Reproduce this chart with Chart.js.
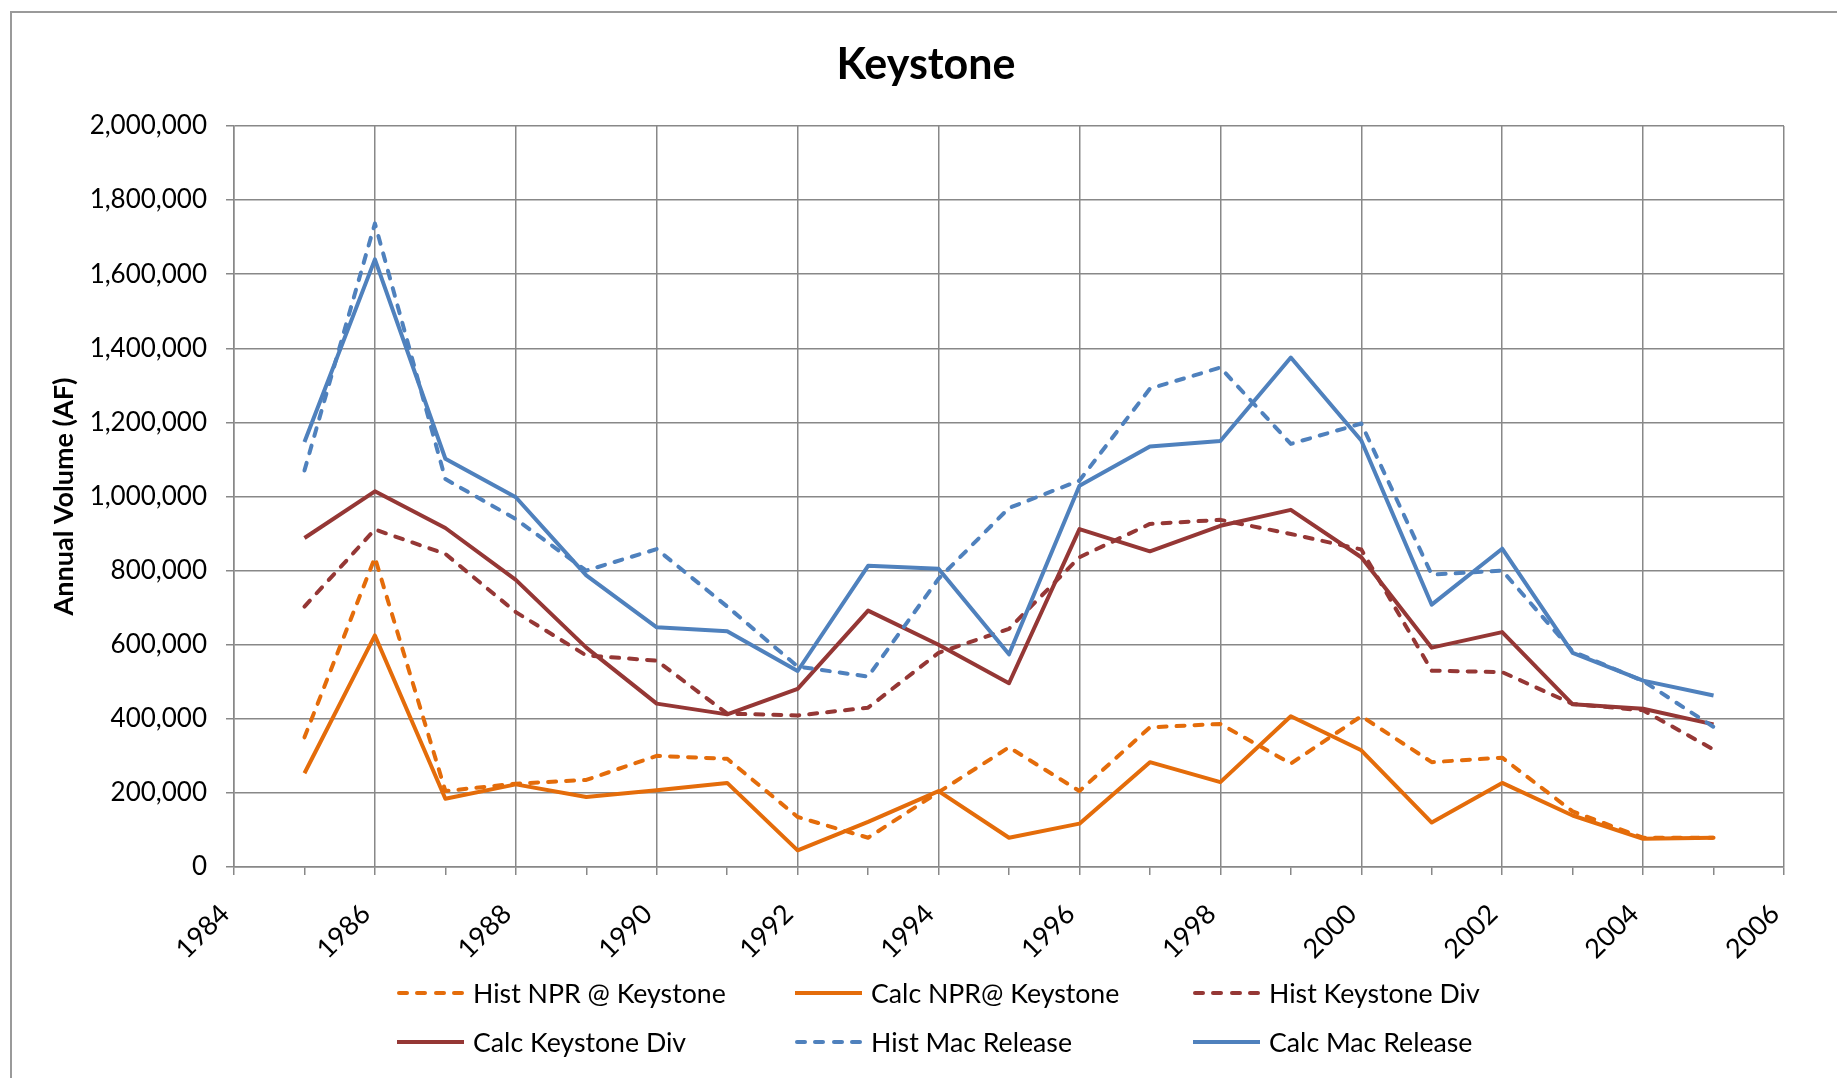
<!DOCTYPE html>
<html lang="en">
<head>
  <meta charset="UTF-8" />
  <title>Keystone</title>
  <script src="https://cdn.jsdelivr.net/npm/chart.js"></script>
  <style>
    body {
      margin: 0;
      background: #fff;
      font-family: Lato, sans-serif;
    }
    .frame {
      position: relative;
      width: 1837px;
      height: 1078px;
      overflow: hidden;
    }
    .outline {
      position: absolute;
      left: 10px;
      top: 11px;
      width: 1900px;
      height: 1200px;
      border-left: 2px solid #9a9a9a;
      border-top: 2px solid #9a9a9a;
    }
    #chart {
      position: absolute;
      left: 0;
      top: 0;
    }
    .title {
      position: absolute;
      left: 0;
      top: 41px;
      width: 1852px;
      text-align: center;
      font: bold 43px/43px Lato, sans-serif;
      color: #000;
    }
    .legend-item {
      position: absolute;
      height: 40px;
      display: flex;
      align-items: center;
      font: 26.7px Lato, sans-serif;
      color: #000;
      white-space: nowrap;
    }
    .sample {
      width: 67px;
      height: 4px;
      margin-right: 9px;
      display: flex;
      justify-content: space-between;
    }
    .sample span {
      display: block;
      width: 12px;
      height: 4px;
      border-radius: 2px;
    }
  </style>
</head>
<body>
  <div class="frame">
    <div class="outline"></div>
    <canvas id="chart" width="1837" height="1078"></canvas>
    <div class="title">Keystone</div>
    <div id="legend"></div>
  </div>

  <script>
    const years = [1985, 1986, 1987, 1988, 1989, 1990, 1991, 1992, 1993, 1994, 1995,
                   1996, 1997, 1998, 1999, 2000, 2001, 2002, 2003, 2004, 2005];

    const histNpr = [350000, 835000, 205000, 225000, 235000, 300000, 292000, 135000, 79000, 202000, 323000,
                     205000, 377000, 386000, 279000, 407000, 283000, 295000, 150000, 79000, 79000];
    const calcNpr = [253000, 625000, 184000, 223000, 189000, 207000, 227000, 45000, 122000, 205000, 79000,
                     117000, 283000, 229000, 407000, 315000, 120000, 227000, 139000, 76000, 79000];
    const histDiv = [703000, 911000, 845000, 688000, 571000, 557000, 414000, 409000, 430000, 578000, 643000,
                     836000, 926000, 937000, 899000, 857000, 530000, 526000, 440000, 423000, 317000];
    const calcDiv = [888000, 1014000, 915000, 775000, 592000, 441000, 412000, 481000, 692000, 600000, 496000,
                     912000, 852000, 921000, 964000, 836000, 592000, 634000, 439000, 427000, 385000];
    const histMac = [1070000, 1737000, 1047000, 939000, 800000, 858000, 703000, 541000, 514000, 778000, 969000,
                     1043000, 1291000, 1348000, 1142000, 1197000, 789000, 800000, 582000, 502000, 378000];
    const calcMac = [1147000, 1640000, 1102000, 998000, 787000, 647000, 636000, 529000, 813000, 805000, 574000,
                     1029000, 1135000, 1150000, 1375000, 1151000, 708000, 859000, 578000, 503000, 463000];

    const seriesNames = ['Hist NPR @ Keystone', 'Calc NPR@ Keystone', 'Hist Keystone Div',
                         'Calc Keystone Div', 'Hist Mac Release', 'Calc Mac Release'];
    const seriesValues = [histNpr, calcNpr, histDiv, calcDiv, histMac, calcMac];

    const xTicks = [1984, 1985, 1986, 1987, 1988, 1989, 1990, 1991, 1992, 1993, 1994, 1995,
                    1996, 1997, 1998, 1999, 2000, 2001, 2002, 2003, 2004, 2005, 2006];
    const yTicks = [0, 200000, 400000, 600000, 800000, 1000000, 1200000, 1400000, 1600000, 1800000, 2000000];

    // line styles, same order as seriesNames
    const ORANGE = '#e46c0a', RED = '#953735', BLUE = '#4f81bd';
    const styles = [
      { color: ORANGE, dashed: true },
      { color: ORANGE, dashed: false },
      { color: RED, dashed: true },
      { color: RED, dashed: false },
      { color: BLUE, dashed: true },
      { color: BLUE, dashed: false }
    ];
    const GRID = '#888888';

    const datasets = seriesNames.map((name, i) => ({
      label: name,
      data: seriesValues[i],
      borderColor: styles[i].color,
      backgroundColor: styles[i].color,
      borderWidth: 4,
      borderDash: styles[i].dashed ? [8, 10] : [],
      borderCapStyle: styles[i].dashed ? 'round' : 'butt',
      borderJoinStyle: 'round',
      pointRadius: 0,
      tension: 0,
      fill: false,
      order: seriesNames.length - i
    }));

    new Chart(document.getElementById('chart'), {
      type: 'line',
      data: { labels: years, datasets },
      options: {
        responsive: false,
        animation: false,
        devicePixelRatio: 1,
        layout: { padding: { top: 126, right: 53, left: 0, bottom: 0 } },
        plugins: {
          legend: { display: false },
          title: { display: false },
          tooltip: { enabled: false }
        },
        scales: {
          x: {
            type: 'linear',
            min: 1984,
            max: 2006,
            afterBuildTicks: s => { s.ticks = xTicks.map(v => ({ value: v })); },
            afterFit: s => { s.height = 211; },
            ticks: {
              autoSkip: false,
              maxRotation: 45,
              minRotation: 45,
              padding: 23,
              labelOffset: -9,
              color: '#000',
              font: { family: 'Lato', size: 27 },
              callback: v => (v % 2 === 0 ? String(v) : '')
            },
            grid: {
              color: c => (c.tick && c.tick.value % 2 !== 0 ? 'rgba(0,0,0,0)' : GRID),
              tickColor: GRID,
              tickLength: 8,
              lineWidth: 1.5
            },
            border: { color: GRID, width: 1.5 }
          },
          y: {
            min: 0,
            max: 2000000,
            afterBuildTicks: s => { s.ticks = yTicks.map(v => ({ value: v })); },
            afterFit: s => { s.width = 234; },
            ticks: {
              padding: 19,
              color: '#000',
              font: { family: 'Lato', size: 26 },
              callback: v => v.toLocaleString('en-US')
            },
            grid: { color: GRID, tickLength: 8, lineWidth: 1.5 },
            border: { color: GRID, width: 1.5 },
            title: {
              display: true,
              text: 'Annual Volume (AF)',
              color: '#000',
              font: { family: 'Lato', size: 27, weight: 'bold' },
              padding: { top: 48, bottom: 0 }
            }
          }
        }
      }
    });

    // legend in three columns, two rows like the original
    const legendCols = [397, 795, 1193];
    const legendRows = [973, 1022];
    const legend = document.getElementById('legend');
    seriesNames.forEach((name, i) => {
      const item = document.createElement('div');
      item.className = 'legend-item';
      item.style.left = legendCols[i % 3] + 'px';
      item.style.top = legendRows[Math.floor(i / 3)] + 'px';
      const sample = document.createElement('div');
      sample.className = 'sample';
      if (styles[i].dashed) {
        for (let k = 0; k < 4; k++) {
          const d = document.createElement('span');
          d.style.background = styles[i].color;
          sample.appendChild(d);
        }
      } else {
        sample.style.background = styles[i].color;
      }
      const text = document.createElement('span');
      text.textContent = name;
      item.appendChild(sample);
      item.appendChild(text);
      legend.appendChild(item);
    });
  </script>
</body>
</html>
